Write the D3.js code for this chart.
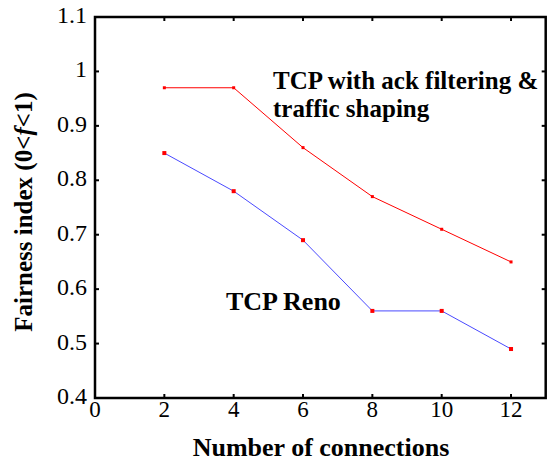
<!DOCTYPE html>
<html>
<head>
<meta charset="UTF-8">
<script src="https://d3js.org/d3.v7.min.js"></script>
<style>
body { margin: 0; background: #fff; }
</style>
</head>
<body>
<svg id="chart" width="556" height="462" font-family="'Liberation Serif', 'Times New Roman', Times, 'DejaVu Serif', serif"></svg>
<script>
var connections = [2, 4, 6, 8, 10, 12]
var ackFiltering = [0.97, 0.97, 0.86, 0.77, 0.71, 0.65]
var reno = [0.85, 0.78, 0.69, 0.56, 0.56, 0.49]
var xTicks = [0, 2, 4, 6, 8, 10, 12]
var yTicks = [0.4, 0.5, 0.6, 0.7, 0.8, 0.9, 1, 1.1]

var svg = d3.select("#chart")
var x = d3.scaleLinear().domain([0, 13]).range([95, 545.7])
var y = d3.scaleLinear().domain([0.4, 1.1]).range([398, 17])

var g = svg.append("g")

// inward ticks on all four sides
var tickLen = 4
xTicks.forEach(function(t) {
    if (t == 0) return
    g.append("line").attr("x1", x(t)).attr("x2", x(t)).attr("y1", y(0.4)).attr("y2", y(0.4) - tickLen)
        .attr("stroke", "#000").attr("stroke-width", 2)
    g.append("line").attr("x1", x(t)).attr("x2", x(t)).attr("y1", y(1.1)).attr("y2", y(1.1) + tickLen)
        .attr("stroke", "#000").attr("stroke-width", 2)
})
yTicks.forEach(function(t) {
    if (t == 0.4 || t == 1.1) return
    g.append("line").attr("x1", x(0)).attr("x2", x(0) + tickLen).attr("y1", y(t)).attr("y2", y(t))
        .attr("stroke", "#000").attr("stroke-width", 2)
    g.append("line").attr("x1", x(13)).attr("x2", x(13) - tickLen).attr("y1", y(t)).attr("y2", y(t))
        .attr("stroke", "#000").attr("stroke-width", 2)
})

g.append("rect")
    .attr("x", x(0)).attr("y", y(1.1))
    .attr("width", x(13) - x(0)).attr("height", y(0.4) - y(1.1))
    .attr("fill", "none").attr("stroke", "#000").attr("stroke-width", 2.5)

// tick labels
g.selectAll(".xl").data(xTicks).enter().append("text")
    .attr("x", d => x(d)).attr("y", 417)
    .attr("text-anchor", "middle").attr("font-size", 23)
    .text(d => d)
g.selectAll(".yl").data(yTicks).enter().append("text")
    .attr("x", 87).attr("y", d => y(d) + 6)
    .attr("text-anchor", "end").attr("font-size", 24)
    .text(d => d3.format("")(d))

// lines
var line = function(vals) {
    return d3.line().x((d, i) => x(connections[i])).y(d => y(d))(vals)
}
g.append("path").attr("d", line(ackFiltering)).attr("fill", "none").attr("stroke", "#ff0000").attr("stroke-width", 1)
g.append("path").attr("d", line(reno)).attr("fill", "none").attr("stroke", "#4a4aff").attr("stroke-width", 1)

g.selectAll(".m1").data(ackFiltering).enter().append("rect")
    .attr("x", (d, i) => x(connections[i]) - 1.5).attr("y", d => y(d) - 1.5)
    .attr("width", 3).attr("height", 3).attr("fill", "#ff0000")
g.selectAll(".m2").data(reno).enter().append("rect")
    .attr("x", (d, i) => x(connections[i]) - 2).attr("y", d => y(d) - 2)
    .attr("width", 4).attr("height", 4).attr("fill", "#ff0000")

// annotations
g.append("text").attr("x", 273).attr("y", 89).attr("font-size", 25).attr("font-weight", "bold")
    .text("TCP with ack filtering &")
g.append("text").attr("x", 273).attr("y", 117).attr("font-size", 25).attr("font-weight", "bold")
    .text("traffic shaping")
g.append("text").attr("x", 226).attr("y", 310).attr("font-size", 26).attr("font-weight", "bold")
    .text("TCP Reno")

// axis titles
g.append("text").attr("x", 321).attr("y", 456).attr("text-anchor", "middle")
    .attr("font-size", 26).attr("font-weight", "bold")
    .text("Number of connections")
var yt = g.append("text").attr("transform", "translate(32,212) rotate(-90)")
    .attr("text-anchor", "middle").attr("font-size", 25).attr("font-weight", "bold")
yt.append("tspan").text("Fairness index (0<")
yt.append("tspan").attr("font-style", "italic").text("f")
yt.append("tspan").text("<1)")
</script>
</body>
</html>
